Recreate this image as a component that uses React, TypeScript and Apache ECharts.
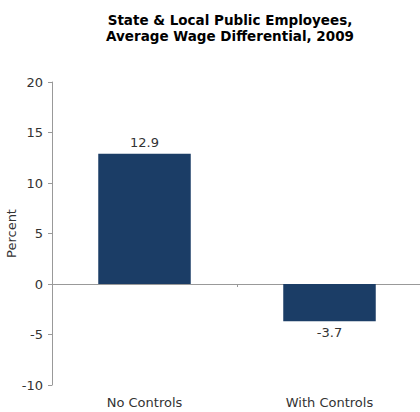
import React, { useEffect, useRef } from "react";
import * as echarts from "echarts";

const categories = ["No Controls", "With Controls"];
const values = [12.9, -3.7];
const titleLines = ["State & Local Public Employees,", "Average Wage Differential, 2009"];

export default function App() {
  const ref = useRef<HTMLDivElement>(null);
  useEffect(() => {
    if (!ref.current) return;
    const chart = echarts.init(ref.current, undefined, { renderer: "svg" });
    const font = "'DejaVu Sans', Verdana, sans-serif";
    chart.setOption({
      animation: false,
      title: {
        text: titleLines.join("\n"),
        left: 225,
        top: 7,
        textAlign: "center",
        textStyle: { fontFamily: font, fontSize: 13.5, fontWeight: "bold", color: "#000", lineHeight: 16 },
      },
      grid: { left: 52, right: -2, top: 82, bottom: 27, outerBoundsMode: "none", containLabel: false },
      xAxis: [
        {
          type: "category",
          data: categories,
          position: "bottom",
          axisLine: { show: false, onZero: false },
          axisTick: { show: false },
          axisLabel: { fontFamily: font, fontSize: 13, color: "#333", margin: 11 },
        },
        {
          type: "category",
          data: categories,
          position: "bottom",
          axisLine: { show: true, onZero: true, lineStyle: { color: "#999", width: 1 } },
          axisTick: { show: true, length: 3, lineStyle: { color: "#999" } },
          axisLabel: { show: false },
        },
      ],
      yAxis: {
        type: "value",
        min: -10,
        max: 20,
        interval: 5,
        name: "Percent",
        nameLocation: "middle",
        nameGap: 34,
        nameMoveOverlap: false,
        nameTextStyle: { fontFamily: font, fontSize: 13, color: "#333" },
        axisLine: { show: true, lineStyle: { color: "#999" } },
        axisTick: { show: true, length: 4, lineStyle: { color: "#999" } },
        axisLabel: { fontFamily: font, fontSize: 13, color: "#333", margin: 9 },
        splitLine: { show: false },
      },
      series: [
        {
          type: "bar",
          xAxisIndex: 0,
          data: values,
          barWidth: "50%",
          itemStyle: { color: "#1b3d66" },
          label: {
            show: true,
            position: "outside",
            fontFamily: font,
            fontSize: 13,
            color: "#333",
            distance: 5,
            formatter: (p: any) => p.value.toFixed(1),
          },
        },
      ],
    });
    return () => chart.dispose();
  }, []);
  return (
    <div
      ref={ref}
      style={{ position: "absolute", left: 0, top: 0, width: 420, height: 412, background: "#fff" }}
    />
  );
}
